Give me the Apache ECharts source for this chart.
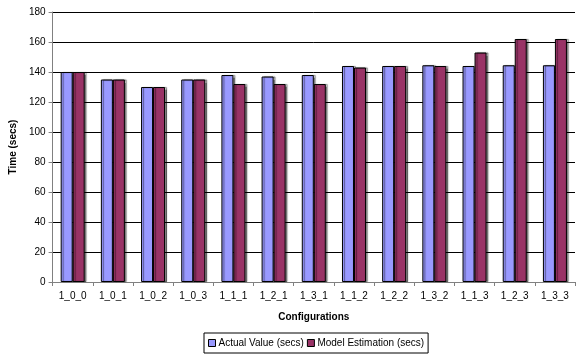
<!DOCTYPE html>
<html>
<head>
<meta charset="utf-8">
<script src="https://cdn.jsdelivr.net/npm/echarts@6/dist/echarts.min.js"></script>
<style>
  html, body { margin: 0; padding: 0; background: #fff; }
  #chart { width: 578px; height: 354px; }
</style>
</head>
<body>
<div id="chart"></div>
<script>
// Configuration names along the x axis
const configurations = ['1_0_0', '1_0_1', '1_0_2', '1_0_3', '1_1_1', '1_2_1', '1_3_1',
                        '1_1_2', '1_2_2', '1_3_2', '1_1_3', '1_2_3', '1_3_3'];
// Measured run times (secs)
const actualValue = [140, 135, 130, 135, 138, 137, 138, 144, 144, 144.5, 144, 144.5, 144.5];
// Model-estimated run times (secs)
const modelEstimation = [140, 135, 130, 135, 132, 132, 132, 143, 144, 144, 153, 162, 162];

const font = 'Liberation Sans, Arial, sans-serif';
const chart = echarts.init(document.getElementById('chart'), null, { renderer: 'canvas' });

const barStyle = (color) => ({
  color: color,
  borderColor: '#000',
  borderWidth: 1,
  shadowColor: 'rgba(0,0,0,0.45)',
  shadowOffsetX: 2,
  shadowOffsetY: 0,
  shadowBlur: 1
});

chart.setOption({
  animation: false,
  grid: { left: 52, right: 3, top: 12, bottom: 72, containLabel: false },
  legend: {
    bottom: 1,
    left: 204,
    icon: 'rect',
    itemWidth: 7,
    itemHeight: 7,
    itemGap: 3,
    padding: [5, 4],
    borderColor: '#000',
    borderWidth: 1,
    textStyle: { fontFamily: font, fontSize: 10, color: '#000', padding: [0, 0, 0, -2] },
    itemStyle: { borderColor: '#000', borderWidth: 1, shadowBlur: 0, shadowOffsetX: 0 },
    data: ['Actual Value (secs)', 'Model Estimation (secs)']
  },
  xAxis: {
    type: 'category',
    data: configurations,
    name: 'Configurations',
    nameLocation: 'middle',
    nameGap: 30,
    nameTextStyle: { fontFamily: font, fontSize: 10, fontWeight: 'bold', color: '#000' },
    axisLine: { lineStyle: { color: '#808080', width: 1 } },
    axisTick: { show: true, alignWithLabel: false, length: 4, lineStyle: { color: '#808080' } },
    axisLabel: { fontFamily: font, fontSize: 10, color: '#000', margin: 9, interval: 0 }
  },
  yAxis: {
    type: 'value',
    min: 0,
    max: 180,
    interval: 20,
    name: 'Time (secs)',
    nameLocation: 'middle',
    nameGap: 28,
    nameTextStyle: { fontFamily: font, fontSize: 10, fontWeight: 'bold', color: '#000' },
    axisLine: { show: true, lineStyle: { color: '#808080', width: 1 } },
    axisTick: { show: true, length: 4, lineStyle: { color: '#808080' } },
    axisLabel: { fontFamily: font, fontSize: 10, color: '#000', margin: 7 },
    splitLine: { lineStyle: { color: '#000', width: 1 } }
  },
  series: [
    {
      name: 'Actual Value (secs)',
      type: 'bar',
      data: actualValue,
      barWidth: 12,
      barGap: '0%',
      itemStyle: barStyle('#9999FF')
    },
    {
      name: 'Model Estimation (secs)',
      type: 'bar',
      data: modelEstimation,
      barWidth: 12,
      barGap: '0%',
      itemStyle: barStyle('#993366')
    }
  ]
});
</script>
</body>
</html>
